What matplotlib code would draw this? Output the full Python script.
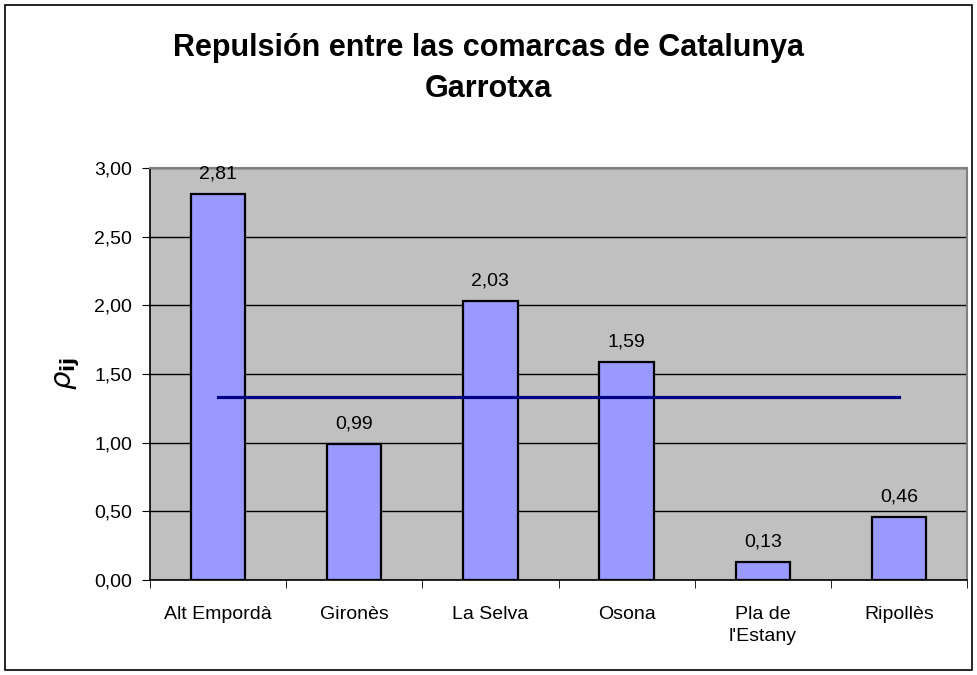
import numpy as np
import matplotlib.pyplot as plt
from matplotlib.patches import Rectangle
from matplotlib.ticker import FixedLocator, FuncFormatter

plt.rcParams['font.family'] = ['Liberation Sans', 'DejaVu Sans']

comarcas = ['Alt Empordà', 'Gironès', 'La Selva', 'Osona', "Pla de\nl'Estany", 'Ripollès']
rho = [2.81, 0.99, 2.03, 1.59, 0.13, 0.46]
mean_rho = np.mean(rho)

W, H = 977, 675
fig = plt.figure(figsize=(W / 100, H / 100), dpi=100)
fig.patches.append(Rectangle((5 / W, 5 / H), 967 / W, 665 / H, transform=fig.transFigure,
                             fill=False, edgecolor='black', linewidth=1.2))

ax = fig.add_axes([150 / W, 1 - 580 / H, 817 / W, 412 / H])
ax.set_facecolor('#C0C0C0')

x = np.arange(len(comarcas))
ax.bar(x, rho, width=0.40, color='#9999FF', edgecolor='black', linewidth=1.6, zorder=3)
ax.plot([x[0], x[-1]], [mean_rho, mean_rho], color='#000080', linewidth=2.3, zorder=4)

for xi, v in zip(x, rho):
    ax.annotate(f'{v:.2f}'.replace('.', ','), (xi, v), xytext=(0, 11), textcoords='offset points',
                ha='center', va='baseline', fontsize=14)

ax.set_xlim(-0.5, len(comarcas) - 0.5)
ax.set_ylim(0, 3)
ax.yaxis.set_major_locator(FixedLocator(np.arange(0, 3.01, 0.5)))
ax.yaxis.set_major_formatter(FuncFormatter(lambda v, p: f'{v:.2f}'.replace('.', ',')))
ax.grid(axis='y', color='black', linewidth=1, zorder=1)
ax.set_axisbelow(True)

ax.set_xticks(x)
ax.set_xticklabels(comarcas, fontsize=14, linespacing=1.35)
ax.xaxis.set_minor_locator(FixedLocator(np.arange(-0.5, len(comarcas), 1)))
ax.tick_params(axis='x', which='major', length=0, pad=19)
ax.tick_params(axis='x', which='minor', length=6, direction='out', color='black')
ax.tick_params(axis='y', labelsize=14, length=6, direction='out', pad=7)

for side in ['top', 'right']:
    ax.spines[side].set_color('#808080')
    ax.spines[side].set_linewidth(1.5)
for side in ['left', 'bottom']:
    ax.spines[side].set_color('black')
    ax.spines[side].set_linewidth(1.2)

ax.set_ylabel(r'$\rho_{\mathbf{ij}}$', fontsize=21, labelpad=9)

fig.text(0.5, 1 - 56 / H, 'Repulsión entre las comarcas de Catalunya',
         ha='center', va='baseline', fontsize=22, fontweight='bold')
fig.text(0.5, 1 - 97 / H, 'Garrotxa',
         ha='center', va='baseline', fontsize=22, fontweight='bold')

fig.savefig('out.png', dpi=100)
